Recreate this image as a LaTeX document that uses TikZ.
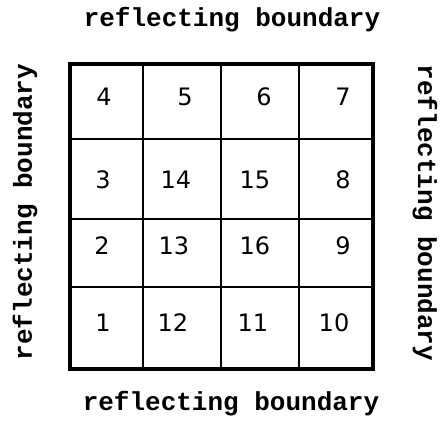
\documentclass[tikz,border=0pt]{standalone}
\usepackage{fontspec}
\setmainfont{DejaVu Sans}
\newfontfamily\labelfont{Liberation Mono}
\begin{document}
\begin{tikzpicture}[x=1pt,y=-1pt,
  bnd/.style={font=\labelfont\bfseries\fontsize{26}{30}\selectfont, inner sep=0pt},
  num/.style={font=\fontsize{24}{28}\selectfont, inner sep=0pt},
  outer/.style={line width=3.4pt},
  inner/.style={line width=1.8pt}]
\useasboundingbox (0,0) rectangle (441,422);
% grid
\draw[inner] (143,64) -- (143,369) (221,64) -- (221,369) (299,64) -- (299,369);
\draw[inner] (70,139) -- (373,139) (70,219) -- (373,219) (70,287) -- (373,287);
\draw[outer] (70,64) rectangle (373,369);
% boundary labels
\node[bnd] (top) at (232,20) {reflecting boundary};
\node[bnd] (bot) at (231,404) {reflecting boundary};
\node[bnd, rotate=90] (lft) at (25,212) {reflecting boundary};
\node[bnd, rotate=-90] (rgt) at (425,213) {reflecting boundary};
% cell numbers
\node[num] (c4) at (104,97) {4};
\node[num] (c5) at (185,97) {5};
\node[num] (c6) at (264,97) {6};
\node[num] (c7) at (343,97) {7};
\node[num] (c3) at (103,180) {3};
\node[num] (c14) at (176,180) {14};
\node[num] (c15) at (255,180) {15};
\node[num] (c8) at (343,180) {8};
\node[num] (c2) at (102,246) {2};
\node[num] (c13) at (174,246) {13};
\node[num] (c16) at (255,246) {16};
\node[num] (c9) at (343,246) {9};
\node[num] (c1) at (103,323) {1};
\node[num] (c12) at (173,323) {12};
\node[num] (c11) at (253,323) {11};
\node[num] (c10) at (334,323) {10};
\end{tikzpicture}
\end{document}
